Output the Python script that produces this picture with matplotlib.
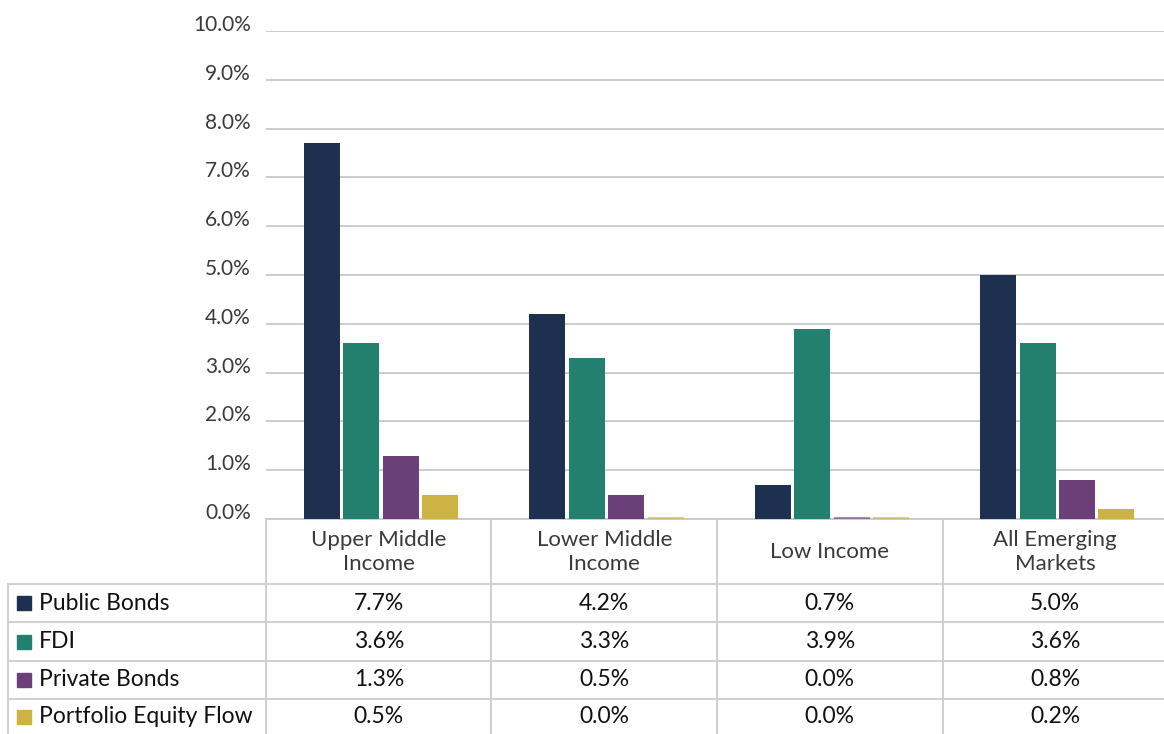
import matplotlib
matplotlib.use("Agg")
import matplotlib.pyplot as plt
from matplotlib.patches import Rectangle
from matplotlib.lines import Line2D
from matplotlib.transforms import blended_transform_factory
import numpy as np

categories = ["Upper Middle\nIncome", "Lower Middle\nIncome", "Low Income", "All Emerging\nMarkets"]
series_names = ["Public Bonds", "FDI", "Private Bonds", "Portfolio Equity Flow"]
public_bonds = [7.7, 4.2, 0.7, 5.0]
fdi = [3.6, 3.3, 3.9, 3.6]
private_bonds = [1.3, 0.5, 0.0, 0.8]
portfolio_equity = [0.5, 0.0, 0.0, 0.2]
yticks = [0, 1, 2, 3, 4, 5, 6, 7, 8, 9, 10]
colors = ["#1d3050", "#23806e", "#6b3f78", "#cdb244"]

series = [public_bonds, fdi, private_bonds, portfolio_equity]

W, H = 1164, 734
fig = plt.figure(figsize=(W / 100, H / 100), dpi=100)

def fx(px):
    return px / W

def fy(py):
    return 1 - py / H

FONT = ["Lato", "DejaVu Sans"]
grid_c = "#c8c8c8"
line_c = "#cccccc"

ax_left, ax_right, ax_top, ax_bot = 266, 1164, 31, 519
ax = fig.add_axes([fx(ax_left), fy(ax_bot), fx(ax_right - ax_left), (ax_bot - ax_top) / H])
col_w = 225.5
ax.set_xlim(-0.5, -0.5 + (ax_right - ax_left) / col_w)
ax.set_ylim(0, 10)

x = np.arange(len(categories))
bw = 36 / col_w
step = 39.5 / col_w
for i, (vals, c) in enumerate(zip(series, colors)):
    offs = (i - 1.5) * step + 2 / col_w
    ax.bar(x + offs, vals, width=bw, color=c, zorder=3)
    for xi, v in zip(x, vals):
        if v == 0:
            ax.hlines(0.02, xi + offs - bw / 2, xi + offs + bw / 2, color=c, lw=1.5, alpha=0.6, zorder=3)

ax.set_yticks(yticks)
ax.set_yticklabels([f"{t:.1f}%" for t in yticks], fontsize=15, color="#3a3a3a",
                   family=FONT)
for lab in ax.get_yticklabels():
    lab.set_va("baseline")
ax.tick_params(axis="y", length=0, pad=11)
ax.set_xticks([])
ax.grid(axis="y", color=grid_c, lw=1.3, zorder=0)
for s in ["top", "right", "left"]:
    ax.spines[s].set_visible(False)
ax.spines["bottom"].set_color(grid_c)
ax.spines["bottom"].set_linewidth(1.3)

# Table
rows_y = [584, 622, 661, 699]
row_centers = [603, 641.5, 680, 716.5]
col_edges = [266, 491, 717, 943]

def hline(y, x0, x1):
    fig.add_artist(Line2D([fx(x0), fx(x1)], [fy(y), fy(y)], color=line_c, lw=1.3))

def vline(xp, y0, y1):
    fig.add_artist(Line2D([fx(xp), fx(xp)], [fy(y0), fy(y1)], color=line_c, lw=1.3))

for ry in rows_y:
    hline(ry, 8, W)
vline(8, 584, H)
for ce in col_edges:
    vline(ce, 519, H)

bt = blended_transform_factory(ax.transData, fig.transFigure)
for xi, cat in zip(x, categories):
    fig.text(xi, fy(552), cat, transform=bt, ha="center", va="center", fontsize=16,
             color="#3a3a3a", family=FONT, linespacing=1.2)

for r, (name, vals, c) in enumerate(zip(series_names, series, colors)):
    yc = row_centers[r]
    fig.add_artist(Rectangle((fx(17), fy(yc + 7)), fx(14), 14 / H, color=c,
                             transform=fig.transFigure))
    fig.text(fx(39), fy(yc), name, ha="left", va="center", fontsize=16.5,
             color="#111111", family=FONT)
    for xi, v in zip(x, vals):
        fig.text(xi, fy(yc), f"{v:.1f}%", transform=bt, ha="center", va="center",
                 fontsize=16.5, color="#111111", family=FONT)

fig.savefig("out.png", dpi=100)
